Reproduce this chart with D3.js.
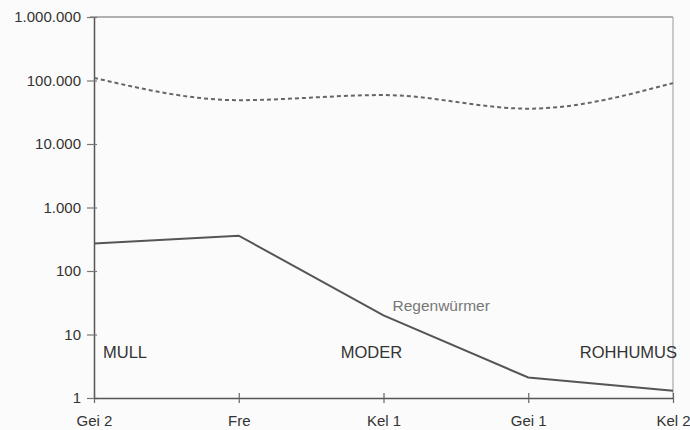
<!DOCTYPE html>
<html>
<head>
<meta charset="utf-8">
<script src="https://cdn.jsdelivr.net/npm/d3@7"></script>
<style>
  body { margin: 0; background: #fbfbfb; }
  text { font-family: "Liberation Sans", Arial, sans-serif; }
</style>
</head>
<body>
<script>
// sites along the humus gradient
var sites = ["Gei 2", "Fre", "Kel 1", "Gei 1", "Kel 2"];
// earthworms (solid line)
var regenwuermer = [270, 360, 20, 2.1, 1.3];
// dashed series
var dashedSeries = [110000, 49000, 59000, 36000, 91000];
// y ticks and their labels
var yTicks = [1, 10, 100, 1000, 10000, 100000, 1000000];
var yTickLabels = ["1", "10", "100", "1.000", "10.000", "100.000", "1.000.000"];
// humus form labels
var humusLabels = ["MULL", "MODER", "ROHHUMUS"];
var humusSites = ["Gei 2", "Kel 1", "Kel 2"];

var margin = {top: 17, right: 17, bottom: 32, left: 94},
    width = 690 - margin.left - margin.right,
    height = 430 - margin.top - margin.bottom;

var x = d3.scalePoint().domain(sites).range([0, width]);
var y = d3.scaleLog().domain([1, 1000000]).range([height, 0]);

var svg = d3.select("body").append("svg")
    .attr("width", 690)
    .attr("height", 430)
    .append("g")
    .attr("transform", "translate(" + margin.left + "," + margin.top + ")");

//top and right frame lines
svg.append("line")
    .attr("x1", -4).attr("x2", width)
    .attr("y1", 0).attr("y2", 0)
    .attr("stroke", "#999").attr("stroke-width", 1.5);
svg.append("line")
    .attr("x1", width).attr("x2", width)
    .attr("y1", 0).attr("y2", height)
    .attr("stroke", "#aaa").attr("stroke-width", 1.2);

//y axis
var yAxis = svg.append("g")
    .call(d3.axisLeft(y).tickValues(yTicks)
        .tickFormat(function(d, i) { return yTickLabels[i]; })
        .tickSizeInner(6).tickSizeOuter(0).tickPadding(7));
yAxis.select(".domain").attr("stroke", "#555").attr("stroke-width", 1.5);
yAxis.selectAll(".tick line").attr("stroke", "#777").attr("stroke-width", 1.2).attr("x2", -7).attr("x1", 3);
yAxis.selectAll("text").attr("font-size", 15).attr("fill", "#333")
    .attr("font-family", "Liberation Sans, Arial, sans-serif");

//x axis
var xAxis = svg.append("g")
    .attr("transform", "translate(0," + height + ")")
    .call(d3.axisBottom(x).tickSizeInner(5).tickSizeOuter(0).tickPadding(12));
xAxis.select(".domain").attr("stroke", "#555").attr("stroke-width", 1.5);
xAxis.selectAll(".tick line").attr("stroke", "#666").attr("stroke-width", 1.2).attr("y1", -5).attr("y2", 5);
xAxis.selectAll("text").attr("font-size", 15).attr("fill", "#333")
    .attr("font-family", "Liberation Sans, Arial, sans-serif");

//dashed line
var dashedLine = d3.line()
    .x(function(d, i) { return x(sites[i]); })
    .y(function(d) { return y(d); })
    .curve(d3.curveMonotoneX);
svg.append("path")
    .datum(dashedSeries)
    .attr("d", dashedLine)
    .attr("fill", "none")
    .attr("stroke", "#666")
    .attr("stroke-width", 2)
    .attr("stroke-dasharray", "4,3");

//earthworm line
var solidLine = d3.line()
    .x(function(d, i) { return x(sites[i]); })
    .y(function(d) { return y(d); });
svg.append("path")
    .datum(regenwuermer)
    .attr("d", solidLine)
    .attr("fill", "none")
    .attr("stroke", "#555")
    .attr("stroke-width", 2);

//series label
svg.append("text")
    .attr("x", x("Kel 1") + 9)
    .attr("y", y(20) - 4)
    .attr("font-size", 15.5)
    .attr("fill", "#777")
    .text("Regenwürmer");

//humus form labels
var anchors = ["start", "middle", "end"];
var offsets = [9, -12, 4];
svg.selectAll(".humus")
    .data(humusLabels)
    .enter().append("text")
    .attr("class", "humus")
    .attr("x", function(d, i) { return x(humusSites[i]) + offsets[i]; })
    .attr("y", y(10) + 23)
    .attr("text-anchor", function(d, i) { return anchors[i]; })
    .attr("font-size", 16.5)
    .attr("fill", "#333")
    .text(function(d) { return d; });
</script>
</body>
</html>
